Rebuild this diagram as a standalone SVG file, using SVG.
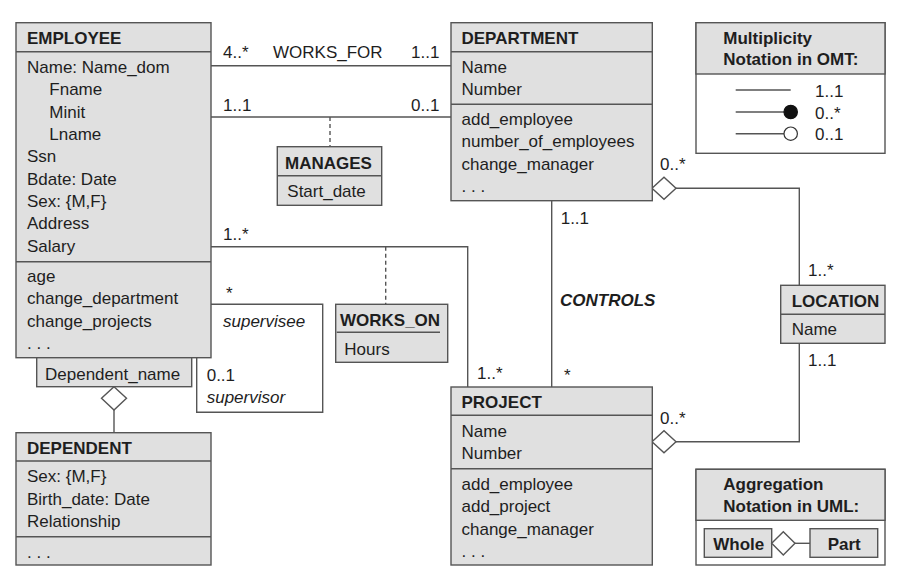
<svg xmlns="http://www.w3.org/2000/svg" width="923" height="570" viewBox="0 0 923 570">
<style>
text{font-family:"Liberation Sans",Arial,sans-serif;font-size:17px;fill:#1e1e1e}
.b{font-weight:bold}
.i{font-style:italic}
.box{fill:#e0e0e0;stroke:#555;stroke-width:1.4}
.wbox{fill:#fff;stroke:#555;stroke-width:1.4}
.ln{fill:none;stroke:#555;stroke-width:1.4}
.dash{fill:none;stroke:#555;stroke-width:1.4;stroke-dasharray:4 3}
.dia{fill:#fff;stroke:#555;stroke-width:1.4}
</style>
<rect width="923" height="570" fill="#fff"/>

<g id="connectors">
  <!-- WORKS_FOR -->
  <line class="ln" x1="211" y1="65.7" x2="451" y2="65.7"/>
  <text x="223" y="58">4..*</text>
  <text x="273" y="58">WORKS_FOR</text>
  <text x="411" y="58">1..1</text>
  <!-- MANAGES -->
  <line class="ln" x1="211" y1="117" x2="451" y2="117"/>
  <line class="dash" x1="330" y1="117" x2="330" y2="146.7"/>
  <text x="223" y="111">1..1</text>
  <text x="411" y="111">0..1</text>
  <!-- WORKS_ON -->
  <polyline class="ln" points="211,246.7 467.7,246.7 467.7,387"/>
  <line class="dash" x1="385.7" y1="246.7" x2="385.7" y2="304.3"/>
  <text x="223" y="239.5">1..*</text>
  <text x="477" y="379">1..*</text>
  <!-- supervision -->
  <polyline class="ln" points="211,304.3 322.7,304.3 322.7,412.3 196.7,412.3 196.7,357.7"/>
  <text x="226" y="299">*</text>
  <text class="i" x="223" y="327">supervisee</text>
  <text x="206.7" y="381">0..1</text>
  <text class="i" x="206.7" y="403">supervisor</text>
  <!-- dependent aggregation -->
  <line class="ln" x1="114" y1="410" x2="114" y2="432.7"/>
  <polygon class="dia" points="114,386.7 126.5,398.3 114,410 101.5,398.3"/>
  <!-- CONTROLS -->
  <line class="ln" x1="551.7" y1="200.7" x2="551.7" y2="387"/>
  <text x="560.7" y="224">1..1</text>
  <text class="b i" x="560" y="305.5">CONTROLS</text>
  <text x="564" y="381">*</text>
  <!-- DEPARTMENT - LOCATION -->
  <polyline class="ln" points="676,188.3 799.3,188.3 799.3,285.3"/>
  <polygon class="dia" points="652,188.3 664,177.3 676,188.3 664,199.3"/>
  <text x="660" y="170">0..*</text>
  <text x="808" y="276">1..*</text>
  <!-- PROJECT - LOCATION -->
  <polyline class="ln" points="676,441.7 799.3,441.7 799.3,343.3"/>
  <polygon class="dia" points="652,441.7 664,430.7 676,441.7 664,452.7"/>
  <text x="660" y="424">0..*</text>
  <text x="808" y="365.5">1..1</text>
</g>

<g id="employee">
  <rect class="box" x="16" y="22.7" width="195" height="335"/>
  <line class="ln" x1="16" y1="51.7" x2="211" y2="51.7"/>
  <line class="ln" x1="16" y1="261.7" x2="211" y2="261.7"/>
  <text class="b" x="27" y="44">EMPLOYEE</text>
  <text x="27" y="73">Name: Name_dom</text>
  <text x="49.3" y="95.3">Fname</text>
  <text x="49.3" y="117.6">Minit</text>
  <text x="49.3" y="140">Lname</text>
  <text x="27" y="162.3">Ssn</text>
  <text x="27" y="184.6">Bdate: Date</text>
  <text x="27" y="207">Sex: {M,F}</text>
  <text x="27" y="229.3">Address</text>
  <text x="27" y="251.6">Salary</text>
  <text x="27" y="282">age</text>
  <text x="27" y="304.3">change_department</text>
  <text x="27" y="326.6">change_projects</text>
  <text x="27" y="349">. . .</text>
</g>

<g id="dependent_name">
  <rect class="box" x="36.7" y="357.7" width="155" height="29"/>
  <text x="45" y="380">Dependent_name</text>
</g>

<g id="dependent">
  <rect class="box" x="16" y="432.7" width="195" height="132.3"/>
  <line class="ln" x1="16" y1="461" x2="211" y2="461"/>
  <line class="ln" x1="16" y1="536.7" x2="211" y2="536.7"/>
  <text class="b" x="27" y="453.5">DEPENDENT</text>
  <text x="27" y="482.3">Sex: {M,F}</text>
  <text x="27" y="504.6">Birth_date: Date</text>
  <text x="27" y="527">Relationship</text>
  <text x="27" y="558.3">. . .</text>
</g>

<g id="manages">
  <rect class="box" x="277.3" y="146.7" width="104.4" height="58.6"/>
  <line class="ln" x1="277.3" y1="175.7" x2="381.7" y2="175.7"/>
  <text class="b" x="285" y="168.5">MANAGES</text>
  <text x="287.3" y="197">Start_date</text>
</g>

<g id="works_on">
  <rect class="box" x="335.7" y="304.3" width="112" height="58"/>
  <line class="ln" x1="336.7" y1="332.3" x2="440" y2="332.3"/>
  <text class="b" x="340" y="325.7">WORKS_ON</text>
  <text x="344.3" y="355">Hours</text>
</g>

<g id="department">
  <rect class="box" x="451" y="22.7" width="201.3" height="178"/>
  <line class="ln" x1="451" y1="51.7" x2="652.3" y2="51.7"/>
  <line class="ln" x1="451" y1="104.3" x2="652.3" y2="104.3"/>
  <text class="b" x="461.5" y="44">DEPARTMENT</text>
  <text x="461.5" y="73">Name</text>
  <text x="461.5" y="95.3">Number</text>
  <text x="461.5" y="125">add_employee</text>
  <text x="461.5" y="147.3">number_of_employees</text>
  <text x="461.5" y="169.6">change_manager</text>
  <text x="461.5" y="192">. . .</text>
</g>

<g id="project">
  <rect class="box" x="451" y="387" width="201.3" height="178"/>
  <line class="ln" x1="451" y1="415.3" x2="652.3" y2="415.3"/>
  <line class="ln" x1="451" y1="468.7" x2="652.3" y2="468.7"/>
  <text class="b" x="461.5" y="408">PROJECT</text>
  <text x="461.5" y="436.7">Name</text>
  <text x="461.5" y="459">Number</text>
  <text x="461.5" y="490">add_employee</text>
  <text x="461.5" y="512.3">add_project</text>
  <text x="461.5" y="534.6">change_manager</text>
  <text x="461.5" y="557">. . .</text>
</g>

<g id="location">
  <rect class="box" x="780.7" y="285.3" width="104.3" height="58"/>
  <line class="ln" x1="780.7" y1="314.3" x2="885" y2="314.3"/>
  <text class="b" x="791.7" y="306.5">LOCATION</text>
  <text x="791.7" y="335">Name</text>
</g>

<g id="legend_multiplicity">
  <rect class="wbox" x="696" y="22.7" width="189" height="130.6"/>
  <rect class="box" x="696" y="22.7" width="189" height="51.3"/>
  <text class="b" x="723.3" y="43.5">Multiplicity</text>
  <text class="b" x="723.3" y="65">Notation in OMT:</text>
  <line class="ln" x1="735.7" y1="90" x2="790.7" y2="90"/>
  <text x="815" y="96.5">1..1</text>
  <line class="ln" x1="735.7" y1="112" x2="784" y2="112"/>
  <circle cx="790.7" cy="112" r="6.7" fill="#111" stroke="#111" stroke-width="1.2"/>
  <text x="815" y="118.5">0..*</text>
  <line class="ln" x1="735.7" y1="133.7" x2="784" y2="133.7"/>
  <circle cx="790.7" cy="133.7" r="6.7" fill="#fff" stroke="#333" stroke-width="1.2"/>
  <text x="815" y="140">0..1</text>
</g>

<g id="legend_aggregation">
  <rect class="wbox" x="696" y="469.3" width="189" height="95.7"/>
  <rect class="box" x="696" y="469.3" width="189" height="51"/>
  <text class="b" x="723.3" y="490">Aggregation</text>
  <text class="b" x="723.3" y="512.3">Notation in UML:</text>
  <rect class="box" x="704.3" y="528.7" width="67.4" height="28.6"/>
  <text class="b" x="713.3" y="550">Whole</text>
  <line class="ln" x1="795" y1="543.3" x2="810" y2="543.3"/>
  <polygon class="dia" points="771.7,543.3 783.3,531.7 795,543.3 783.3,555"/>
  <rect class="box" x="810" y="528.7" width="67.7" height="28.6"/>
  <text class="b" x="827.7" y="550">Part</text>
</g>
</svg>
